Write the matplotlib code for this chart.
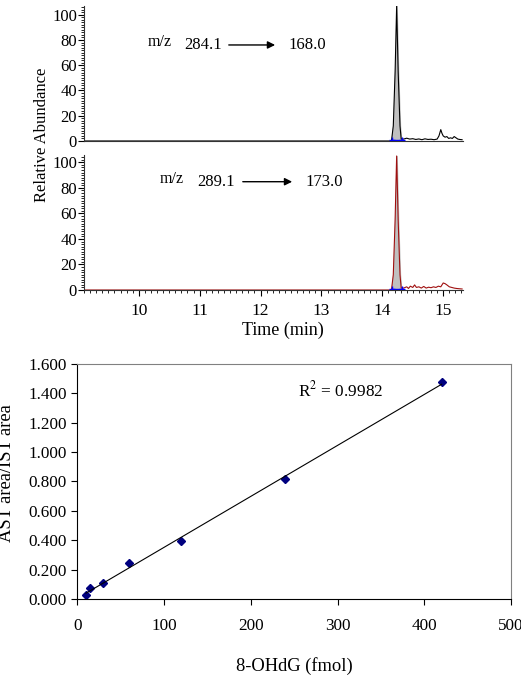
import numpy as np
import matplotlib
matplotlib.use("Agg")
from matplotlib import pyplot as plt
from matplotlib.ticker import MultipleLocator, FormatStrFormatter

plt.rcParams['font.family'] = ['Liberation Serif', 'DejaVu Serif']
plt.rcParams['mathtext.fontset'] = 'stix'

# chromatogram, m/z 284.1 -> 168.0 (black trace)
t_top = [9.10, 14.15, 14.18, 14.21, 14.235, 14.26, 14.29, 14.31, 14.35, 14.40,
         14.45, 14.50, 14.55, 14.60, 14.65, 14.70, 14.75, 14.80, 14.85, 14.90, 14.93,
         14.96, 14.98, 15.00, 15.03, 15.06, 15.09, 15.12, 15.15, 15.18, 15.21, 15.24,
         15.27, 15.31]
i_top = [0, 0, 12, 55, 107, 55, 12, 1.5, 1.5, 2.2, 1.5, 1.8, 1.2, 1.6, 1.0, 1.7, 1.2,
         1.4, 1.0, 1.5, 4, 9, 6, 4, 3, 3.5, 2, 2.5, 2, 3.5, 2.5, 1.5, 1.2, 1]

# chromatogram, m/z 289.1 -> 173.0 (red trace)
t_bot = [9.10, 14.15, 14.18, 14.21, 14.235, 14.26, 14.29, 14.31, 14.35, 14.40,
         14.43, 14.46, 14.50, 14.53, 14.56, 14.60, 14.64, 14.68, 14.72, 14.76, 14.80,
         14.84, 14.88, 14.92, 14.96, 15.00, 15.03, 15.06, 15.10, 15.14, 15.18, 15.22,
         15.26, 15.31]
i_bot = [0, 0, 12, 55, 105, 55, 12, 1.5, 1.5, 2.5, 1.2, 3, 2, 4, 2, 2.5, 1.5, 2.8, 1.5,
         2.2, 1.8, 2.5, 2, 3, 2.5, 5.5, 5, 4, 2.5, 2, 1.5, 1.2, 1, 0.8]

# calibration curve
amount = [10, 15, 30, 60, 120, 240, 420]
ratio = [0.027, 0.073, 0.109, 0.243, 0.393, 0.815, 1.478]

fig = plt.figure(figsize=(5.21, 6.83), dpi=100)

def chrom(ax, t, y, color, top):
    ax.fill_between(t, y, color='#c0c0c0', where=[14.15 <= v <= 14.31 for v in t])
    ax.plot(t, y, color=color, lw=0.8)
    ax.plot([14.16, 14.32], [0.4, 0.4], color='blue', lw=1, marker='+', ms=4)
    ax.set_xlim(9.1, 15.32)
    ax.set_ylim(0, top)
    for s in ['top', 'right']:
        ax.spines[s].set_visible(False)
    ax.spines['left'].set_color('#333333')
    ax.spines['bottom'].set_color('#333333')
    ax.yaxis.set_major_locator(MultipleLocator(20))
    ax.yaxis.set_minor_locator(MultipleLocator(2))
    ax.tick_params(axis='y', which='major', length=4, labelsize=12, pad=1)
    ax.tick_params(axis='y', which='minor', length=2.5)

ax1 = fig.add_axes([0.1612, 0.7936, 0.7269, 0.1977])
chrom(ax1, t_top, i_top, 'black', 107)
ax1.set_xticks([])
ax1.annotate('', xy=(0.512, 0.711), xytext=(0.375, 0.711), xycoords='axes fraction',
             arrowprops=dict(arrowstyle='-|>', color='black', lw=1, mutation_scale=11))
ax1.text(0.169, 0.73, 'm/z', transform=ax1.transAxes, fontsize=11.5, va='center')
ax1.text(0.264, 0.711, '284.1', transform=ax1.transAxes, fontsize=12, va='center')
ax1.text(0.539, 0.711, '168.0', transform=ax1.transAxes, fontsize=12, va='center')

ax2 = fig.add_axes([0.1612, 0.5754, 0.7269, 0.1977])
chrom(ax2, t_bot, i_bot, '#a01010', 105.8)
ax2.xaxis.set_major_locator(MultipleLocator(1))
ax2.xaxis.set_minor_locator(MultipleLocator(0.1))
ax2.tick_params(axis='x', which='major', length=4, labelsize=12.5, pad=5)
ax2.tick_params(axis='x', which='minor', length=2.5)
ax2.annotate('', xy=(0.557, 0.802), xytext=(0.412, 0.802), xycoords='axes fraction',
             arrowprops=dict(arrowstyle='-|>', color='black', lw=1, mutation_scale=11))
ax2.text(0.2007, 0.82, 'm/z', transform=ax2.transAxes, fontsize=11.5, va='center')
ax2.text(0.298, 0.802, '289.1', transform=ax2.transAxes, fontsize=12, va='center')
ax2.text(0.586, 0.802, '173.0', transform=ax2.transAxes, fontsize=12, va='center')

fig.text(42 / 521, 1 - 135 / 683, 'Relative Abundance', rotation=90, fontsize=12,
         ha='center', va='center')
fig.text(283 / 521, 1 - 330 / 683, 'Time (min)', fontsize=13, ha='center', va='center')

# calibration plot
ax3 = fig.add_axes([0.1484, 0.1230, 0.8324, 0.3441])
ax3.plot(amount, ratio, linestyle='none', marker='D', ms=4.5, color='#00007f')
k, b = np.polyfit(amount, ratio, 1)
xs = np.array([amount[0], amount[-1]])
ax3.plot(xs, k * xs + b, color='black', lw=0.8)
ax3.set_xlim(0, 500)
ax3.set_ylim(0, 1.6)
ax3.xaxis.set_major_locator(MultipleLocator(100))
ax3.yaxis.set_major_locator(MultipleLocator(0.2))
ax3.yaxis.set_major_formatter(FormatStrFormatter('%.3f'))
ax3.tick_params(labelsize=12.3, length=4)
ax3.tick_params(axis='x', pad=10)
ax3.spines['top'].set_color('#808080')
ax3.spines['right'].set_color('#808080')
ax3.text(254, 1.423, r'R$^2$ = 0.9982', fontsize=12.4, va='center')
ax3.set_xlabel('8-OHdG (fmol)', fontsize=13.3, labelpad=16)
fig.text(7 / 521, 1 - 473 / 683, 'AST area/IST area', rotation=90, fontsize=13.3,
         ha='center', va='center')

plt.savefig('out.png', dpi=100)
